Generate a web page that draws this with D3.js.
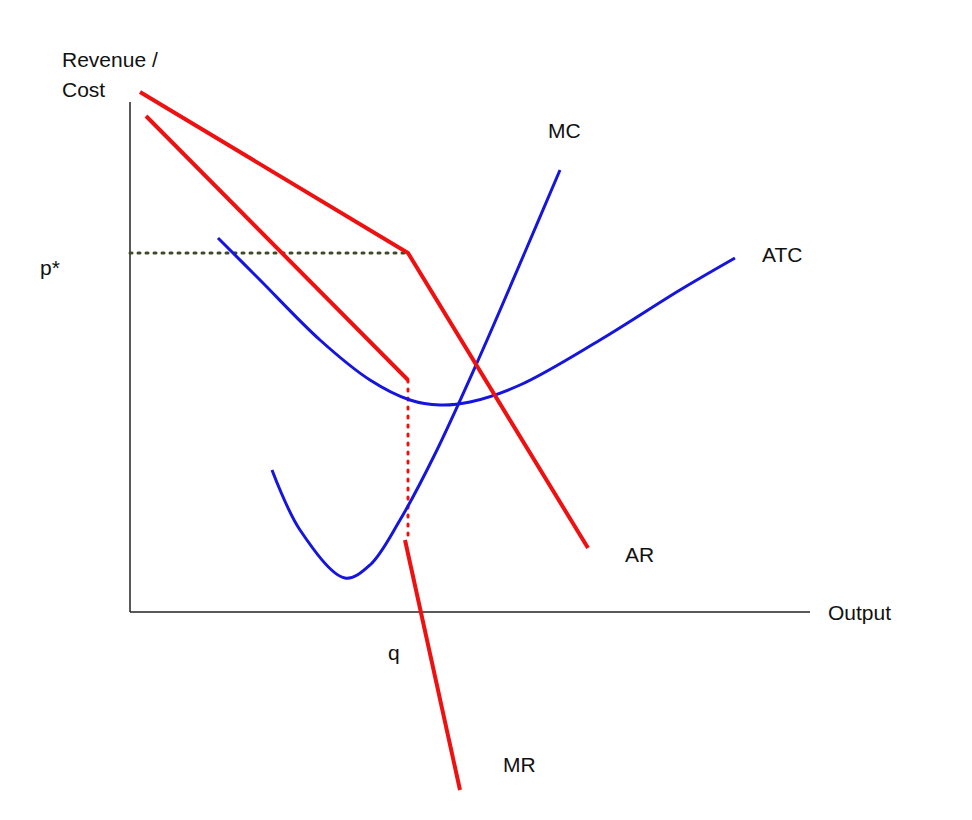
<!DOCTYPE html>
<html><head><meta charset="utf-8">
<script src="https://cdn.jsdelivr.net/npm/d3@7"></script>
<style>body{margin:0;background:#fff}text{font-family:"Liberation Sans",Arial,sans-serif;font-size:21px;fill:#111}</style>
</head><body><svg id="c" width="972" height="820"></svg>
<script>
// curve points in (output, revenue/cost) units
const arPts = [[1, 52], [27.8, 35.9], [45.8, 6.4]];
const mrUpper = [[1.6, 49.6], [27.8, 23.2]];
const mrGap = [[27.8, 23.2], [27.8, 7.2]];
const mrLower = [[27.5, 7.2], [33, -17.8]];
const pStar = [[0, 35.9], [27.8, 35.9]];
const mcPts = [[14.2, 14.2], [17, 8.2], [21.5, 3.4], [24, 4.7], [27, 9.2], [30.5, 15.8], [35, 25.6], [39.5, 36], [43, 44.2]];
const atcPts = [[8.8, 37.4], [13, 33.2], [19, 27.2], [24, 23.2], [28, 21.2], [31, 20.7], [34, 21], [39, 22.7], [47, 27.2], [55, 32.2], [60.5, 35.4]];
const labels = [["MC", 41.8, 47.4], ["ATC", 63.2, 35], ["AR", 49.5, 5], ["MR", 37.3, -16]];

const svg = d3.select("#c");
const x = d3.scaleLinear().domain([0, 70]).range([130, 830]);
const y = d3.scaleLinear().domain([0, 60]).range([612, 12]);
const line = d3.line().x(d => x(d[0])).y(d => y(d[1]));
const smooth = d3.line().x(d => x(d[0])).y(d => y(d[1])).curve(d3.curveCatmullRom);

// axes
svg.append("line").attr("x1", x(0)).attr("x2", x(0)).attr("y1", y(51)).attr("y2", y(0)).attr("stroke", "#222").attr("stroke-width", 1.5);
svg.append("line").attr("x1", x(0)).attr("x2", x(68)).attr("y1", y(0)).attr("y2", y(0)).attr("stroke", "#222").attr("stroke-width", 1.5);

svg.append("path").attr("d", line(pStar)).attr("fill", "none").attr("stroke", "#3d4a2c").attr("stroke-width", 3).attr("stroke-dasharray", "2,6").attr("stroke-linecap", "round");
svg.append("path").attr("d", line(mrGap)).attr("fill", "none").attr("stroke", "#e11").attr("stroke-width", 3).attr("stroke-dasharray", "2,7").attr("stroke-linecap", "round");

svg.append("path").attr("d", smooth(atcPts)).attr("fill", "none").attr("stroke", "#1515dd").attr("stroke-width", 3);
svg.append("path").attr("d", smooth(mcPts)).attr("fill", "none").attr("stroke", "#1515dd").attr("stroke-width", 3);

[arPts, mrUpper, mrLower].forEach(p =>
  svg.append("path").attr("d", line(p)).attr("fill", "none").attr("stroke", "#e11").attr("stroke-width", 4));

svg.append("text").attr("x", 62).attr("y", 67).text("Revenue /");
svg.append("text").attr("x", 62).attr("y", 97).text("Cost");
svg.append("text").attr("x", 40).attr("y", 275).text("p*");
svg.append("text").attr("x", 388).attr("y", 660).text("q");
svg.append("text").attr("x", 828).attr("y", 620).text("Output");
labels.forEach(l => svg.append("text").attr("x", x(l[1])).attr("y", y(l[2])).text(l[0]));
</script></body></html>
